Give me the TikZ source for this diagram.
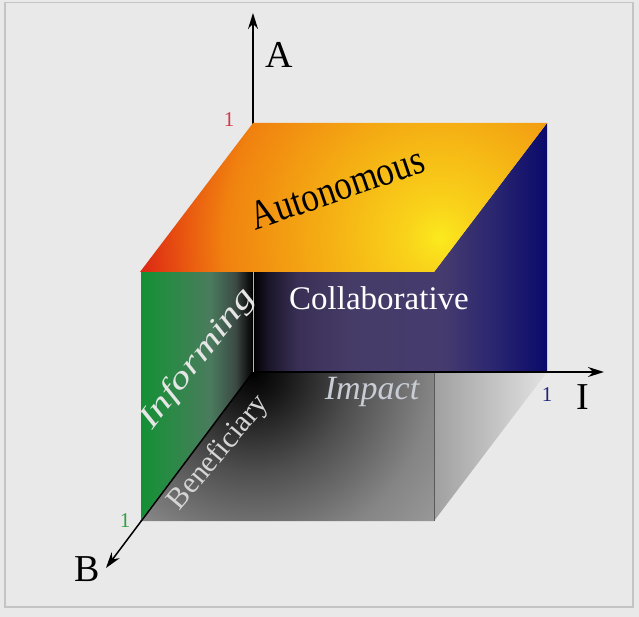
\documentclass[tikz,border=0pt]{standalone}
\usepackage{fontspec}
\setmainfont{Liberation Serif}
\usetikzlibrary{arrows.meta}

\definecolor{bgc}{HTML}{E9E9E9}
\definecolor{framec}{HTML}{C4C4C4}
% top face (radial, centred near the front-right)
\definecolor{ty0}{HTML}{FBEA1E}
\definecolor{ty1}{HTML}{F9D21A}
\definecolor{ty2}{HTML}{F5B114}
\definecolor{ty3}{HTML}{F0820F}
\definecolor{ty4}{HTML}{EA5C10}
\definecolor{ty5}{HTML}{DC2614}
% floor (radial from origin)
\definecolor{fl1}{HTML}{151515}
\definecolor{fl2}{HTML}{4F4F4F}
\definecolor{fl3}{HTML}{858585}
\definecolor{fl4}{HTML}{9E9E9E}
\definecolor{fl5}{HTML}{ABABAB}
\definecolor{fr1}{HTML}{A0A0A0}
\definecolor{fr2}{HTML}{E2E2E2}
% back wall (blue)
\definecolor{bl1}{HTML}{1A1528}
\definecolor{bl2}{HTML}{3A3056}
\definecolor{bl3}{HTML}{463C68}
\definecolor{bl4}{HTML}{453B6E}
\definecolor{bl5}{HTML}{2A2670}
\definecolor{bl6}{HTML}{08086A}
% side wall (green)
\definecolor{gr1}{HTML}{139035}
\definecolor{gr2}{HTML}{2A8A45}
\definecolor{gr3}{HTML}{4A7B5E}
\definecolor{gr4}{HTML}{3C4A45}
\definecolor{gr5}{HTML}{101010}
% labels
\definecolor{onered}{HTML}{D03848}
\definecolor{oneblue}{HTML}{22227A}
\definecolor{onegreen}{HTML}{30A040}
\definecolor{impc}{HTML}{C8CCD4}
\definecolor{benc}{HTML}{D5D5D5}
\definecolor{infc}{HTML}{E6E6E6}

\pgfdeclareradialshading{topshade}{\pgfpoint{0bp}{0bp}}{color(0bp)=(ty0); color(35bp)=(ty1); color(110bp)=(ty2); color(215bp)=(ty3); color(250bp)=(ty4); color(300bp)=(ty5); color(320bp)=(ty5)}
\pgfdeclareradialshading{floorshade}{\pgfpoint{0bp}{0bp}}{color(0bp)=(black); color(30bp)=(fl1); color(100bp)=(fl2); color(180bp)=(fl3); color(250bp)=(fl4); color(340bp)=(fl5)}
\pgfdeclarehorizontalshading{blueshade}{260bp}{color(0bp)=(black); color(15bp)=(bl1); color(45bp)=(bl2); color(100bp)=(bl3); color(190bp)=(bl4); color(240bp)=(bl5); color(296bp)=(bl6)}
\pgfdeclarehorizontalshading{greenshade}{260bp}{color(0bp)=(gr1); color(30bp)=(gr2); color(70bp)=(gr3); color(95bp)=(gr4); color(108bp)=(gr5); color(115bp)=(black)}

\tikzset{
  shbox/.style={inner sep=0pt, outer sep=0pt},
  axisline/.style={line width=1.5pt, -{Stealth[length=16pt, width=10pt]}},
  facetext/.style={inner sep=0pt, outer sep=0pt},
  axislabel/.style={inner sep=0pt, font=\fontsize{38}{38}\selectfont},
  onelabel/.style={inner sep=0pt, font=\fontsize{21}{21}\selectfont},
}

\begin{document}
\begin{tikzpicture}[x=1pt, y=-1pt]
\path[use as bounding box] (0,0) rectangle (639,617);
\fill[bgc] (0,0) rectangle (639,617);
\draw[framec, line width=1.2pt] (5,2.5) rectangle (633,607);

% cube corners
\coordinate (O)   at (253,372);
\coordinate (A1)  at (253,123);
\coordinate (I1)  at (547,372);
\coordinate (B1)  at (140,521);
\coordinate (AI)  at (547,123);
\coordinate (AB)  at (140,272);
\coordinate (AIB) at (434,272);
\coordinate (IB)  at (434,521);
\coordinate (Ac)  at (253,272);
\coordinate (Ic)  at (434,372);
% axis tips
\coordinate (Atip) at (253,13);
\coordinate (Itip) at (604,372);
\coordinate (Btip) at (106,568);

% floor, dark part
\begin{scope}
  \clip (O) -- (Ic) -- (IB) -- (B1) -- cycle;
  \node[shbox] (shFloor) at (O) {\pgfuseshading{floorshade}};
\end{scope}
% floor, light part
\shade[left color=fr1, right color=fr2] (Ic) -- (I1) -- (IB) -- cycle;
\draw[gray!70!black, line width=0.8pt] (Ic) -- (IB);

% back wall (blue)
\begin{scope}
  \clip (Ac) -- (AIB) -- (AI) -- (I1) -- (O) -- cycle;
  \node[shbox, anchor=west] (shBlue) at (253,247) {\pgfuseshading{blueshade}};
\end{scope}
% side wall (green)
\begin{scope}
  \clip (AB) -- (Ac) -- (O) -- (B1) -- cycle;
  \node[shbox, anchor=west] (shGreen) at (140,396) {\pgfuseshading{greenshade}};
\end{scope}

% axes
\draw[axisline] (O) -- (Atip);
\draw[axisline] (O) -- (Itip);
\draw[axisline] (O) -- (Btip);
\draw[gray!55, line width=0.8pt] (Ac) -- (O);

% top face
\begin{scope}
  \clip (A1) -- (AI) -- (AIB) -- (AB) -- cycle;
  \node[shbox] (shTop) at (440,238) {\pgfuseshading{topshade}};
\end{scope}

% face texts
\node[facetext, rotate=19, font=\fontsize{35}{35}\selectfont] (tAuto) at (337,188) {\scalebox{1}[1.18]{Autonomous}};
\node[facetext, text=white, font=\fontsize{33}{33}\selectfont] (tCollab) at (379,298) {Collaborative};
\node[facetext, text=infc, rotate=52, font=\fontsize{31}{31}\selectfont\itshape] (tInform) at (198,359) {\scalebox{1.36}[1]{Informing}};
\node[facetext, text=benc, rotate=50, font=\fontsize{30}{30}\selectfont] (tBenef) at (219,453) {Beneficiary};
\node[facetext, text=impc, font=\fontsize{34}{34}\selectfont\itshape] (tImpact) at (372,392) {Impact};

% axis labels
\node[axislabel] (lA) at (279,55) {A};
\node[axislabel] (lI) at (583,397) {I};
\node[axislabel] (lB) at (87,569) {B};
\node[onelabel, text=onered] (oneA) at (229,120) {1};
\node[onelabel, text=oneblue] (oneI) at (547,395) {1};
\node[onelabel, text=onegreen] (oneB) at (125,521) {1};
\end{tikzpicture}
\end{document}
